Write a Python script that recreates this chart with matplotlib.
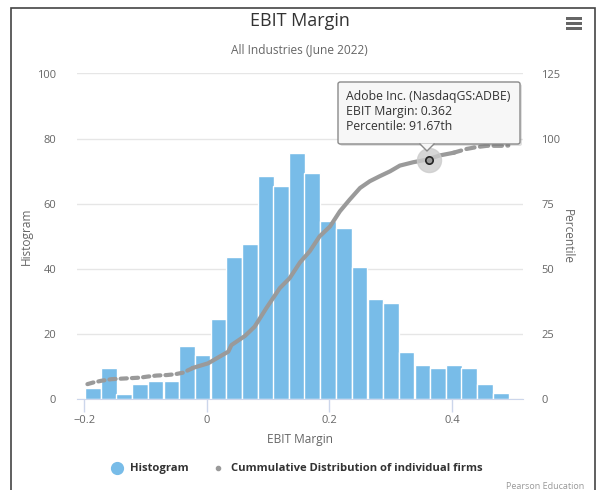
import matplotlib.pyplot as plt
import numpy as np
from matplotlib.lines import Line2D
from matplotlib.patches import FancyBboxPatch, Polygon, Rectangle

plt.rcParams['font.family'] = ['Open Sans', 'DejaVu Sans']

# histogram bins (centre of each bin) and counts
bin_centers = [-0.186, -0.160, -0.135, -0.109, -0.084, -0.058, -0.032, -0.007,
               0.019, 0.044, 0.070, 0.096, 0.121, 0.147, 0.172, 0.198, 0.224,
               0.249, 0.275, 0.300, 0.326, 0.352, 0.377, 0.403, 0.428, 0.454, 0.480]
counts = [3.4, 9.4, 1.5, 4.6, 5.5, 5.5, 16.3, 13.3, 24.5, 43.6, 47.6, 68.4, 65.3,
          75.7, 69.5, 54.6, 52.4, 40.6, 30.6, 29.4, 14.5, 10.5, 9.5, 10.5, 9.5, 4.6, 1.7]
bin_width = 0.0256

# cumulative distribution of firms (EBIT margin, percentile)
cdf_x = [-0.195, -0.186, -0.172, -0.156, -0.132, -0.109, -0.097, -0.082, -0.065,
         -0.052, -0.039, -0.022, 0.002, 0.021, 0.035, 0.040, 0.062, 0.078, 0.097,
         0.119, 0.135, 0.152, 0.168, 0.184, 0.201, 0.217, 0.233, 0.250, 0.266,
         0.282, 0.299, 0.315, 0.337, 0.359, 0.380, 0.402, 0.424, 0.440, 0.457,
         0.484, 0.492]
cdf_p = [5.6, 6.2, 6.9, 7.5, 7.8, 8.1, 8.5, 8.9, 9.1, 9.4, 10.0, 11.9, 13.6, 16.2,
         18.1, 20.6, 24.1, 27.7, 34.8, 42.5, 46.3, 52.4, 56.7, 62.4, 66.2, 72.0,
         76.5, 81.0, 83.6, 85.5, 87.4, 89.6, 90.9, 91.9, 93.5, 94.5, 96.0, 96.7,
         97.2, 97.2, 97.3]

firm_name = 'Adobe Inc. (NasdaqGS:ADBE)'
firm_margin = 0.362
firm_pct = 91.67

legend_labels = ['Histogram', 'Cummulative Distribution of individual firms']

blue = '#78bce8'
gray = '#9a9a9a'
W, H = 599, 490

fig = plt.figure(figsize=(W / 100, H / 100), dpi=100)
fig.patch.set_facecolor('white')

def fx(px):
    return px / W

def fy(py):
    return 1 - py / H

ax = fig.add_axes([fx(77), fy(398.7), fx(523) - fx(77), fy(73.5) - fy(398.7)])
ax.bar(bin_centers, counts, width=bin_width, color=blue, edgecolor='white',
       linewidth=1, zorder=2)
ax.set_xlim(-0.212, 0.516)
ax.set_ylim(0, 100)
ax.set_yticks([0, 20, 40, 60, 80, 100])
ax.set_xticks([-0.2, 0, 0.2, 0.4])
ax.set_xticklabels(['\u22120.2', '0', '0.2', '0.4'])
ax.grid(axis='y', color='#e6e6e6', linewidth=1, zorder=0)
for s in ['top', 'right', 'left']:
    ax.spines[s].set_visible(False)
ax.spines['bottom'].set_color('#ccd6eb')
ax.tick_params(axis='x', colors='#ccd6eb', labelcolor='#666666', length=9,
               width=1, labelsize=8, pad=3)
ax.tick_params(axis='y', length=0, labelcolor='#666666', labelsize=8, pad=15)
ax.set_xlabel('EBIT Margin', color='#666666', fontsize=8.6, labelpad=5)
ax.set_ylabel('Histogram', color='#666666', fontsize=8.6, labelpad=3)

ax2 = ax.twinx()
ax2.set_ylim(0, 125)
ax2.set_yticks([0, 25, 50, 75, 100, 125])
for s in ax2.spines.values():
    s.set_visible(False)
ax2.tick_params(axis='y', length=0, labelcolor='#666666', labelsize=8, pad=13)
ax2.set_ylabel('Percentile', color='#666666', fontsize=8.6, rotation=270,
               labelpad=10)

# sparse tails drawn dashed, dense middle solid
ax2.plot(cdf_x[:12], cdf_p[:12], color=gray, lw=3, dashes=(1.5, 1.2),
         dash_capstyle='round')
ax2.plot(cdf_x[11:36], cdf_p[11:36], color=gray, lw=3)
ax2.plot(cdf_x[35:], cdf_p[35:], color=gray, lw=3, dashes=(2, 1.3),
         dash_capstyle='round')

# highlighted firm
ax2.scatter([firm_margin], [firm_pct], s=300, color='#cccccc', alpha=0.8, zorder=4)
ax2.scatter([firm_margin], [firm_pct], s=28, facecolor=gray, edgecolor='#222222',
            linewidth=1.2, zorder=5)

# tooltip
shadow = FancyBboxPatch((fx(340), fy(146)), fx(520) - fx(338), fy(82) - fy(144),
                        boxstyle='round,pad=0,rounding_size=0.004',
                        transform=fig.transFigure, facecolor='#000000', alpha=0.12,
                        edgecolor='none', zorder=9)
fig.add_artist(shadow)
tip = FancyBboxPatch((fx(338), fy(144)), fx(520) - fx(338), fy(82) - fy(144),
                     boxstyle='round,pad=0,rounding_size=0.004',
                     transform=fig.transFigure, facecolor='#f7f7f7',
                     edgecolor='#8a8a8a', linewidth=1, zorder=10)
fig.add_artist(tip)
pointer = Polygon([(fx(420), fy(143.5)), (fx(427), fy(151)), (fx(434), fy(143.5))],
                  closed=True, transform=fig.transFigure, facecolor='#f7f7f7',
                  edgecolor='none', zorder=11)
fig.add_artist(pointer)
fig.add_artist(Line2D([fx(420), fx(427), fx(434)], [fy(144), fy(151), fy(144)],
                      color='#8a8a8a', lw=1, transform=fig.transFigure, zorder=11))
tip_lines = [firm_name, 'EBIT Margin: %.3f' % firm_margin,
             'Percentile: %.2fth' % firm_pct]
for i, t in enumerate(tip_lines):
    fig.text(fx(346), fy(96.5 + i * 15), t, fontsize=8.8, color='#333333',
             va='center', ha='left', zorder=12)

# titles
fig.text(0.5, fy(21), 'EBIT Margin', ha='center', va='center', fontsize=13,
         color='#333333')
fig.text(0.5, fy(50), 'All Industries (June 2022)', ha='center', va='center',
         fontsize=8.6, color='#666666')

# legend, laid out by hand like the reference
fig.add_artist(Line2D([fx(117)], [fy(468)], marker='o', ms=8.5, color=blue,
                      ls='', transform=fig.transFigure))
fig.text(fx(130), fy(468), legend_labels[0], fontsize=8.1, weight='bold',
         color='#333333', va='center', ha='left')
fig.add_artist(Line2D([fx(218)], [fy(468)], marker='o', ms=3, color=gray,
                      ls='', transform=fig.transFigure))
fig.text(fx(231), fy(468), legend_labels[1], fontsize=8.1, weight='bold',
         color='#333333', va='center', ha='left')

fig.text(fx(584), fy(486), 'Pearson Education', ha='right', va='center',
         fontsize=6.5, color='#999999')

# menu icon
for yy in (19, 24, 29):
    fig.add_artist(Rectangle((fx(566), fy(yy + 1.5)), fx(16), 3 / H,
                             transform=fig.transFigure, facecolor='#666666',
                             edgecolor='none'))

# outer frame
fig.add_artist(Rectangle((fx(11), fy(495)), fx(595) - fx(11), fy(8) - fy(495),
                         transform=fig.transFigure, facecolor='none',
                         edgecolor='#444444', linewidth=1.2))

fig.savefig('out.png', dpi=100)
